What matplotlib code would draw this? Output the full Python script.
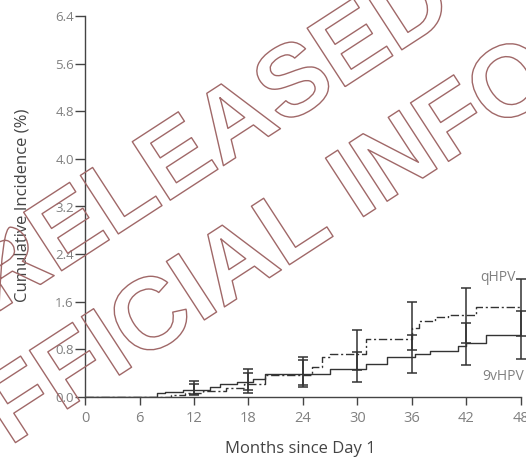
import matplotlib
matplotlib.use("Agg")
import matplotlib.pyplot as plt
import matplotlib.patheffects as pe
import numpy as np

# ---- data ----
times_9v = [0, 7.9, 8.8, 10.8, 13.8, 14.9, 16.7, 18.5, 19.8, 27.0, 30.9, 33.3, 36.3, 38.0, 41.1, 42.0, 44.1, 48]
vals_9v = [0, 0.07, 0.09, 0.12, 0.17, 0.22, 0.26, 0.30, 0.38, 0.47, 0.55, 0.67, 0.72, 0.78, 0.85, 0.90, 1.04, 1.04]

times_q = [0, 9.5, 11, 13, 15.5, 17.5, 19.8, 25.0, 26.1, 27.0, 30.9, 36.0, 36.8, 38.5, 40.0, 43.0, 48]
vals_q = [0, 0.04, 0.07, 0.10, 0.15, 0.22, 0.37, 0.51, 0.67, 0.72, 0.97, 1.16, 1.28, 1.34, 1.38, 1.52, 1.52]

ci_times = [12, 18, 24, 30, 36, 42, 48]
q_lo = [0.03, 0.07, 0.20, 0.45, 0.79, 0.90, 1.03]
q_hi = [0.27, 0.40, 0.67, 1.13, 1.60, 1.83, 1.98]
v9_lo = [0.05, 0.12, 0.16, 0.26, 0.40, 0.54, 0.63]
v9_hi = [0.22, 0.47, 0.62, 0.76, 1.04, 1.24, 1.45]

x_ticks = [0, 6, 12, 18, 24, 30, 36, 42, 48]
y_ticks = [0.0, 0.8, 1.6, 2.4, 3.2, 4.0, 4.8, 5.6, 6.4]

plt.rcParams['font.family'] = ['Open Sans', 'DejaVu Sans']

W, H = 526, 461
fig = plt.figure(figsize=(W / 100, H / 100), dpi=100)
ax = fig.add_axes([85 / W, 1 - 397 / H, 436 / W, 381 / H])
ax.set_xlim(0, 48)
ax.set_ylim(0, 6.4)

line_c = '#333333'
ax.step(times_9v, vals_9v, where='post', color=line_c, lw=1.0)
ax.step(times_q, vals_q, where='post', color=line_c, lw=1.0, linestyle=(0, (6, 2, 1.5, 2)))

def draw_ci(lo, hi):
    lo = np.array(lo); hi = np.array(hi)
    mid = (lo + hi) / 2
    ax.errorbar(ci_times, mid, yerr=[mid - lo, hi - mid], fmt='none',
                ecolor=line_c, elinewidth=1.1, capsize=3.5, capthick=1.1, clip_on=False)

draw_ci(q_lo, q_hi)
draw_ci(v9_lo, v9_hi)

ax.text(47.4, 2.0, 'qHPV', ha='right', va='center', fontsize=10, color='#808080')
ax.text(48.3, 0.34, '9vHPV', ha='right', va='center', fontsize=10, color='#808080')

for s in ['top', 'right']:
    ax.spines[s].set_visible(False)
for s in ['left', 'bottom']:
    ax.spines[s].set_color('#444444')
    ax.spines[s].set_linewidth(1.0)

ax.set_xticks(x_ticks)
ax.set_xticklabels([str(t) for t in x_ticks])
ax.set_yticks(y_ticks)
ax.set_yticklabels([f'{t:.1f}' for t in y_ticks])
ax.tick_params(axis='x', direction='out', length=6, width=1, color='#444444',
               labelsize=10.5, labelcolor='#808080', pad=4)
ax.tick_params(axis='y', direction='out', length=7, width=1, color='#444444',
               labelsize=9.5, labelcolor='#808080', pad=1)

fig.text(300 / W, 1 - 449 / H, 'Months since Day 1', ha='center', va='center',
         fontsize=12, color='#444444')
fig.text(23 / W, 1 - 205 / H, 'Cumulative Incidence (%)', ha='center', va='center',
         rotation=90, fontsize=12, color='#444444')

# watermark
wm_c = '#a06868'
for txt, (px, py) in [('RELEASED', (226, 164)), ('OFFICIAL INFO', (252, 289))]:
    fig.text(px / W, 1 - py / H, txt, ha='center', va='baseline', rotation=33,
             rotation_mode='anchor', fontsize=73, fontweight='bold',
             family='Liberation Sans', color='none',
             path_effects=[pe.withStroke(linewidth=1.0, foreground=wm_c)])

fig.savefig('out.png', dpi=100)
